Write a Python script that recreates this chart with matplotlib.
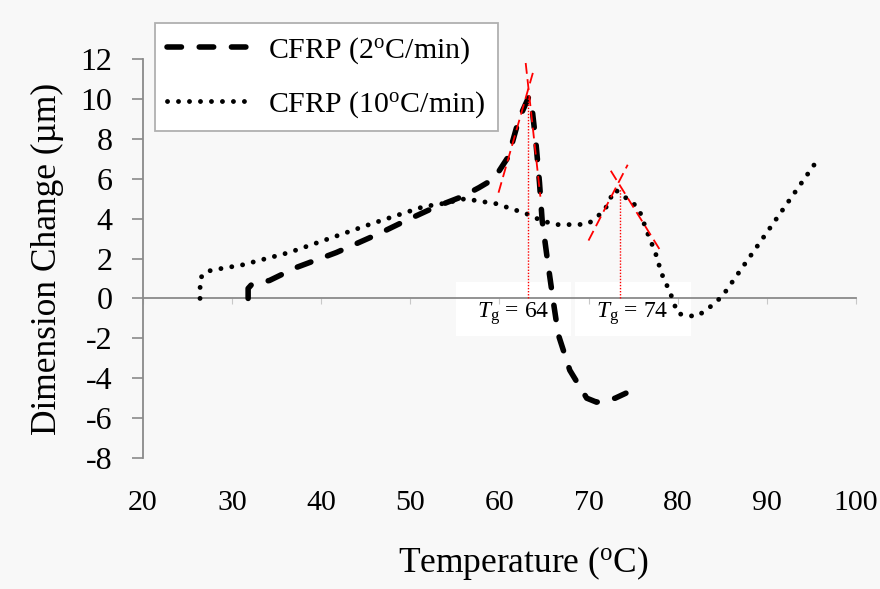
import numpy as np
import matplotlib
matplotlib.use("Agg")
import matplotlib.pyplot as plt
from matplotlib.patches import Rectangle

# fonts: Times-like serif everywhere, mathtext for the superscripts/subscripts
plt.rcParams['font.family'] = ['Liberation Serif', 'DejaVu Serif']
plt.rcParams['mathtext.fontset'] = 'custom'
plt.rcParams['mathtext.rm'] = 'Liberation Serif'
plt.rcParams['mathtext.it'] = 'Liberation Serif:italic'
plt.rcParams['axes.unicode_minus'] = False

# CFRP 2 C/min (dashed)
temp_2 = [31.8, 31.8, 32.2, 34.2, 37.2, 41.7, 46.5, 49.5, 52.9, 55.8, 57.7, 59.4,
          61.0, 62.2, 63.3, 63.7, 64.1, 64.5, 64.8, 65.4, 66.0, 66.6, 67.9, 69.8,
          70.9, 73.0, 74.2]
dim_2 = [0.0, 0.5, 0.7, 0.9, 1.55, 2.3, 3.25, 3.9, 4.6, 5.1, 5.55, 6.0,
         7.1, 9.0, 10.1, 9.4, 7.8, 5.8, 3.9, 1.9, 0.0, -1.8, -3.6, -5.0,
         -5.2, -5.0, -4.75]

# CFRP 10 C/min (dotted)
temp_10 = [26.4, 26.4, 26.5, 27.1, 28.2, 29.4, 30.9, 36.4, 40.9, 45.7, 49.1, 51.5,
           53.6, 56.2, 57.4, 59.6, 62.0, 63.3, 64.7, 66.4, 68.9, 70.0, 71.8, 72.3,
           73.0, 74.0, 75.0, 75.8, 76.6, 77.5, 78.2, 79.2, 80.0, 80.9, 82.1, 83.2,
           85.0, 95.8]
dim_10 = [0.0, 0.5, 1.05, 1.35, 1.45, 1.55, 1.65, 2.3, 3.0, 3.75, 4.25, 4.6,
          4.75, 5.0, 4.9, 4.75, 4.4, 4.2, 3.9, 3.7, 3.7, 3.75, 4.4, 4.9,
          5.45, 5.1, 4.8, 4.3, 3.3, 2.3, 1.25, 0.25, -0.75, -0.85, -0.9, -0.6,
          0.1, 7.0]

# tangent lines (red dashed) and Tg markers
tan_x = [[59.9, 63.85], [62.95, 64.6], [70.0, 74.4], [72.5, 78.2]]
tan_y = [[5.3, 11.45], [11.8, 5.1], [2.9, 6.7], [6.4, 2.3]]
tg_x = [63.2, 73.5]
tg_top = [10.1, 5.5]
tg_labels = ['64', '74']
tg_text_x = [61.6, 74.9]

xticks = [20, 30, 40, 50, 60, 70, 80, 90, 100]
yticks = [-8, -6, -4, -2, 0, 2, 4, 6, 8, 10, 12]

bg = '#f8f8f8'
grey = '#8a8a8a'

fig = plt.figure(figsize=(8.8, 5.89), dpi=100, facecolor=bg)
ax = fig.add_axes([0.1625, 0.2224, 0.81, 0.6774], facecolor=bg)

ax.plot(temp_2, dim_2, color='black', lw=4, linestyle=(0, (2.6, 3.2)),
        dash_capstyle='round', zorder=3, label=r'CFRP (2$^{\mathrm{o}}$C/min)')
ax.plot(temp_10, dim_10, color='black', lw=3.5, linestyle=(0, (0.01, 2.25)),
        dash_capstyle='round', zorder=3, label=r'CFRP (10$^{\mathrm{o}}$C/min)')

for xs, ys in zip(tan_x, tan_y):
    ax.plot(xs, ys, color='red', lw=1.3, linestyle=(0, (6, 3)), zorder=4)
for x, top, lab, tx in zip(tg_x, tg_top, tg_labels, tg_text_x):
    ax.plot([x, x], [0, top], color='red', lw=1.0, linestyle=(0, (1, 1.2)), zorder=4)
    ax.text(tx, -0.95, r'$T_{\mathrm{g}}$ = ' + lab, fontsize=17, ha='center',
            va='baseline', zorder=5)

# white boxes behind the Tg labels
ax.add_patch(Rectangle((55.1, -1.86), 12.9, 2.66, facecolor='white',
                       edgecolor='none', zorder=1))
ax.add_patch(Rectangle((68.5, -1.86), 13.0, 2.66, facecolor='white',
                       edgecolor='none', zorder=1))

ax.set_xlim(20, 100)
ax.set_ylim(-8, 12)
ax.set_yticks(yticks)
ax.set_xticks(xticks)

for s in ['top', 'right']:
    ax.spines[s].set_visible(False)
ax.spines['bottom'].set_position(('data', 0))
ax.spines['bottom'].set_color(grey)
ax.spines['bottom'].set_linewidth(1.3)
ax.spines['bottom'].set_zorder(2)
ax.spines['left'].set_color(grey)
ax.spines['left'].set_linewidth(1.3)

ax.tick_params(axis='x', length=4, color='#c8c8c8', labelbottom=False)
ax.tick_params(axis='y', length=8, width=1.2, color=grey, pad=14, labelsize=23)

# x tick labels and label sit below the plot, not at the zero line
sec = ax.secondary_xaxis(0)
sec.set_xticks(xticks)
sec.spines['bottom'].set_visible(False)
sec.tick_params(length=0, pad=23, labelsize=21.5)
sec.set_xlabel(r'Temperature ($^{\mathrm{o}}$C)', fontsize=25.5, labelpad=20, x=0.533)

ax.set_ylabel('Dimension Change (µm)', fontsize=25.5, labelpad=12)

leg = ax.legend(loc='upper left', bbox_to_anchor=(0.176, 0.961),
                bbox_transform=fig.transFigure, fontsize=21.5, frameon=True,
                fancybox=False, edgecolor='#b0b0b0', facecolor='white',
                framealpha=1, handlelength=2.7, handletextpad=0.7,
                labelspacing=0.78, borderpad=0.4, borderaxespad=0)
leg.get_frame().set_linewidth(1.3)
leg.set_zorder(6)

fig.savefig('out.png', dpi=100, facecolor=bg)
